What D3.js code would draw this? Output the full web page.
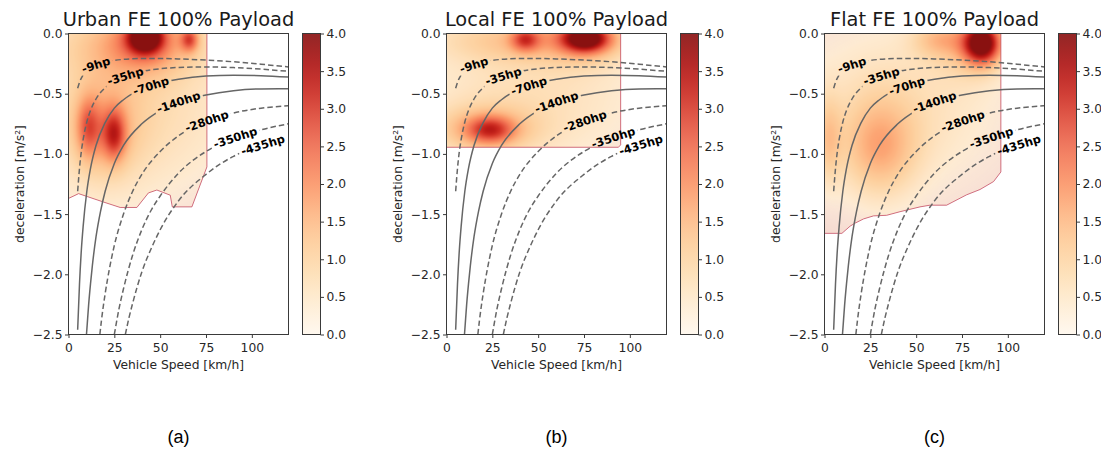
<!DOCTYPE html>
<html><head><meta charset="utf-8">
<script src="https://cdn.jsdelivr.net/npm/d3@7"></script>
<style>body{margin:0;background:#fff} svg{display:block}</style>
</head><body>
<svg id="chart" width="1101" height="452"></svg>
<script>
// ---------------- data ----------------
const panelTitles = ["Urban FE 100% Payload", "Local FE 100% Payload", "Flat FE 100% Payload"];
const panelTags = ["(a)", "(b)", "(c)"];
const speedTicks = [0, 25, 50, 75, 100];
const decelTicks = [0, -0.5, -1, -1.5, -2, -2.5];
const densityTicks = [0, 0.5, 1, 1.5, 2, 2.5, 3, 3.5, 4];

const hpLabels = ["-9hp", "-35hp", "-70hp", "-140hp", "-280hp", "-350hp", "-435hp"];
const hpDashed = [true, true, false, false, true, true, true];
const hpLabelSpeed = [15, 31, 45, 60, 75.5, 91, 106];
const hpLabelAngle = [-18, -17, -18, -19, -19, -18, -17];

// [speed km/h, deceleration m/s^2]
const curve9hp = [[5,-0.455],[6,-0.406],[7,-0.37],[8,-0.344],[10,-0.308],[12,-0.283],[15,-0.26],[20,-0.236],[25,-0.223],[30,-0.215],[40,-0.208],[50,-0.208],[60,-0.211],[75,-0.221],[90,-0.235],[105,-0.255],[120,-0.278]];
const curve35hp = [[5,-1.31],[6,-1.12],[7,-0.98],[8,-0.88],[10,-0.735],[12,-0.64],[15,-0.544],[20,-0.45],[25,-0.394],[30,-0.358],[40,-0.315],[50,-0.293],[60,-0.282],[75,-0.278],[90,-0.283],[105,-0.296],[120,-0.314]];
const curve70hp = [[5,-2.46],[6,-2.08],[7,-1.80],[8,-1.60],[10,-1.31],[12,-1.12],[15,-0.93],[20,-0.74],[25,-0.62],[30,-0.55],[40,-0.46],[50,-0.41],[60,-0.38],[75,-0.354],[90,-0.347],[105,-0.35],[120,-0.362]];
const curve140hp = [[9.8,-2.5],[10,-2.46],[11,-2.25],[12,-2.08],[13,-1.93],[15,-1.69],[17.5,-1.475],[20,-1.31],[25,-1.08],[30,-0.93],[40,-0.75],[50,-0.64],[60,-0.57],[75,-0.51],[90,-0.475],[105,-0.46],[120,-0.458]];
const curve280hp = [[17.1,-2.5],[18,-2.38],[20,-2.16],[22.5,-1.94],[25,-1.76],[30,-1.50],[35,-1.31],[40,-1.17],[50,-0.98],[60,-0.85],[75,-0.73],[90,-0.66],[105,-0.62],[120,-0.60]];
const curve350hp = [[25,-2.5],[27.5,-2.29],[30,-2.12],[35,-1.84],[40,-1.63],[45,-1.47],[50,-1.35],[60,-1.16],[75,-0.98],[90,-0.87],[105,-0.80],[120,-0.75]];
const curve435hp = [[31,-2.5],[33,-2.36],[35,-2.24],[40,-1.98],[45,-1.79],[50,-1.63],[60,-1.39],[75,-1.17],[90,-1.02],[105,-0.93],[117,-0.88]];

// data envelopes [speed, deceleration]
const urbanEnvelope = [[0,0],[75.5,0],[75.5,-1.108],[67.3,-1.44],[56.6,-1.44],[55.5,-1.343],[48.2,-1.30],[43.6,-1.324],[37.3,-1.445],[28.2,-1.445],[19.1,-1.40],[5.5,-1.33],[0,-1.37]];
const localEnvelope = [[0,0],[95,0],[95,-0.925],[93.8,-0.945],[0,-0.945]];
const flatEnvelope = [[0,0],[96.2,0],[96.2,-1.15],[92.2,-1.23],[84.8,-1.296],[77.5,-1.34],[66.6,-1.426],[57.5,-1.426],[52.1,-1.44],[41.2,-1.48],[33.9,-1.51],[26.7,-1.515],[21.3,-1.54],[16.7,-1.575],[14,-1.60],[9.5,-1.66],[0,-1.66]];

// density clusters: [speed, decel, peak, spread speed, spread decel]
const urbanBlobs = [[42,-0.03,3.3,6.5,0.09],[42,-0.05,1.0,14,0.18],[66,-0.05,1.9,3.5,0.07],[25,-0.84,1.9,4.5,0.15],[11,-0.78,1.4,4.5,0.17],[18,-0.8,1.0,14,0.3],[35,-0.08,1.0,30,0.2],[35,-0.6,0.85,40,0.55]];
const localBlobs = [[76,-0.04,3.3,9,0.08],[76,-0.05,0.8,16,0.15],[43,-0.05,1.8,5.5,0.07],[24,-0.8,1.8,9,0.08],[20,-0.8,1.2,20,0.14],[45,-0.05,1.0,35,0.13],[45,-0.5,0.7,45,0.45]];
const flatBlobs = [[86,-0.08,3.8,7,0.12],[80,-0.08,1.0,14,0.2],[62,-0.05,0.9,10,0.1],[30,-0.95,1.3,14,0.28],[2,-0.88,0.9,5,0.25],[40,-0.6,0.7,40,0.5]];

// ---------------- drawing ----------------
const curves = [curve9hp, curve35hp, curve70hp, curve140hp, curve280hp, curve350hp, curve435hp];
const envelopes = [urbanEnvelope, localEnvelope, flatEnvelope];
const blobsets = [urbanBlobs, localBlobs, flatBlobs];
const panelLeft = [68.5, 446.5, 824.5];
const plotW = 220, plotTop = 33.5, plotBottom = 334.5;
const FONT = "DejaVu Sans, sans-serif";

const svg = d3.select("#chart");
const defs = svg.append("defs");

const lut = d3.range(256).map(i => d3.rgb(d3.interpolateOrRd(i / 255)));

const grad = defs.append("linearGradient").attr("id", "cbgrad")
  .attr("x1", 0).attr("y1", 1).attr("x2", 0).attr("y2", 0);
d3.range(0, 1.0001, 0.05).forEach(t => grad.append("stop")
  .attr("offset", t).attr("stop-color", d3.interpolateOrRd(t)));

function density(blobs, v, a) {
  let s = 0;
  for (const [bv, ba, amp, sv, sa] of blobs) {
    const dv = (v - bv) / sv, da = (a - ba) / sa;
    s += amp * Math.exp(-0.5 * (dv * dv + da * da));
  }
  return s;
}

panelTitles.forEach((title, p) => {
  const x0 = panelLeft[p];
  const x = d3.scaleLinear().domain([0, 120]).range([x0, x0 + plotW]);
  const y = d3.scaleLinear().domain([0, -2.5]).range([plotTop, plotBottom]);
  const g = svg.append("g");

  defs.append("clipPath").attr("id", "plot" + p).append("rect")
    .attr("x", x0).attr("y", plotTop).attr("width", plotW).attr("height", plotBottom - plotTop);

  const envLine = d3.line().x(d => x(d[0])).y(d => y(d[1]));
  const envPath = envLine(envelopes[p]) + "Z";
  defs.append("clipPath").attr("id", "env" + p).append("path").attr("d", envPath);

  g.append("path").attr("d", envPath).attr("fill", "#f4d6cd");

  const cw = plotW, ch = Math.round(plotBottom - plotTop);
  const canvas = document.createElement("canvas");
  canvas.width = cw; canvas.height = ch;
  const ctx = canvas.getContext("2d");
  const img = ctx.createImageData(cw, ch);
  for (let j = 0; j < ch; j++) {
    const a = y.invert(plotTop + j + 0.5);
    for (let i = 0; i < cw; i++) {
      const v = x.invert(x0 + i + 0.5);
      const d = density(blobsets[p], v, a);
      const c = lut[Math.round(Math.min(d / 4, 1) * 255)];
      const k = (j * cw + i) * 4;
      img.data[k] = c.r; img.data[k + 1] = c.g; img.data[k + 2] = c.b;
      img.data[k + 3] = Math.round(255 * 0.92 * Math.min(1, d / 0.35));
    }
  }
  ctx.putImageData(img, 0, 0);
  g.append("image").attr("href", canvas.toDataURL())
    .attr("x", x0).attr("y", plotTop).attr("width", cw).attr("height", ch)
    .attr("preserveAspectRatio", "none")
    .attr("clip-path", `url(#env${p})`);

  g.append("path").attr("d", envPath).attr("fill", "none")
    .attr("stroke", "#c2445e").attr("stroke-opacity", 0.75).attr("stroke-width", 1);

  const mask = defs.append("mask").attr("id", "mask" + p).attr("maskUnits", "userSpaceOnUse")
    .attr("x", 0).attr("y", 0).attr("width", 1101).attr("height", 452);
  mask.append("rect").attr("x", 0).attr("y", 0).attr("width", 1101).attr("height", 452).attr("fill", "#fff");

  const lineGen = d3.line().x(d => x(d[0])).y(d => y(d[1])).curve(d3.curveMonotoneX);
  const lines = g.append("g").attr("clip-path", `url(#plot${p})`)
    .append("g").attr("mask", `url(#mask${p})`);
  curves.forEach((c, ci) => {
    lines.append("path").attr("d", lineGen(c)).attr("fill", "none")
      .attr("stroke", "#666").attr("stroke-width", 1.5)
      .attr("stroke-dasharray", hpDashed[ci] ? "5.5,3" : null);
  });

  const labG = g.append("g");
  curves.forEach((c, ci) => {
    const sv = hpLabelSpeed[ci];
    let k = 1; while (k < c.length - 1 && c[k][0] < sv) k++;
    const t = (sv - c[k - 1][0]) / (c[k][0] - c[k - 1][0]);
    const av = c[k - 1][1] + t * (c[k][1] - c[k - 1][1]);
    const px = x(sv), py = y(av);
    const txt = labG.append("text").attr("x", px).attr("y", py).attr("dy", "0.35em")
      .attr("text-anchor", "middle").attr("font-family", FONT).attr("font-weight", "bold")
      .attr("font-size", "11.5px").attr("fill", "#000")
      .attr("transform", `rotate(${hpLabelAngle[ci]},${px},${py})`).text(hpLabels[ci]);
    const w = txt.node().getComputedTextLength() + 5;
    mask.append("rect").attr("x", px - w / 2).attr("y", py - 6).attr("width", w).attr("height", 12)
      .attr("fill", "#000").attr("transform", `rotate(${hpLabelAngle[ci]},${px},${py})`);
  });

  const xAxis = d3.axisBottom(x).tickValues(speedTicks).tickSize(3.5).tickPadding(5).tickFormat(d3.format("d"));
  const yAxis = d3.axisLeft(y).tickValues(decelTicks).tickSize(3.5).tickPadding(2.5).tickFormat(d3.format(".1f"));
  const xa = g.append("g").attr("transform", `translate(0,${plotBottom})`).call(xAxis);
  const ya = g.append("g").attr("transform", `translate(${x0},0)`).call(yAxis);
  [xa, ya].forEach(a => {
    a.select(".domain").remove();
    a.selectAll("line").attr("stroke", "#3a3a3a");
    a.selectAll("text").attr("font-family", FONT).attr("font-size", "12.3px").attr("fill", "#262626");
  });
  g.append("rect").attr("x", x0).attr("y", plotTop).attr("width", plotW).attr("height", plotBottom - plotTop)
    .attr("fill", "none").attr("stroke", "#3a3a3a").attr("stroke-width", 1);

  g.append("text").attr("x", x0 + plotW / 2).attr("y", 26).attr("text-anchor", "middle")
    .attr("font-family", FONT).attr("font-size", "19.4px").attr("fill", "#1a1a1a").text(title);
  g.append("text").attr("x", x0 + plotW / 2).attr("y", 369).attr("text-anchor", "middle")
    .attr("font-family", FONT).attr("font-size", "12.3px").attr("fill", "#262626").text("Vehicle Speed [km/h]");
  const ylx = x0 - 45, yly = (plotTop + plotBottom) / 2;
  g.append("text").attr("x", ylx).attr("y", yly).attr("text-anchor", "middle")
    .attr("transform", `rotate(-90,${ylx},${yly})`)
    .attr("font-family", FONT).attr("font-size", "12.3px").attr("fill", "#262626").text("deceleration [m/s²]");
  g.append("text").attr("x", x0 + plotW / 2).attr("y", 443).attr("text-anchor", "middle")
    .attr("font-family", "Liberation Sans, Arial, sans-serif").attr("font-size", "18px").attr("fill", "#000")
    .text(panelTags[p]);

  const cbx = x0 + 234, cbw = 18;
  const cs = d3.scaleLinear().domain([0, 4]).range([plotBottom, plotTop]);
  g.append("rect").attr("x", cbx).attr("y", plotTop).attr("width", cbw).attr("height", plotBottom - plotTop)
    .attr("fill", "url(#cbgrad)").attr("fill-opacity", 0.85);
  g.append("rect").attr("x", cbx).attr("y", plotTop).attr("width", cbw).attr("height", plotBottom - plotTop)
    .attr("fill", "none").attr("stroke", "#3a3a3a").attr("stroke-width", 1);
  const ca = g.append("g").attr("transform", `translate(${cbx + cbw},0)`)
    .call(d3.axisRight(cs).tickValues(densityTicks).tickSize(3.5).tickPadding(2.5).tickFormat(d3.format(".1f")));
  ca.select(".domain").remove();
  ca.selectAll("line").attr("stroke", "#3a3a3a");
  ca.selectAll("text").attr("font-family", FONT).attr("font-size", "12.3px").attr("fill", "#262626");
});
</script>
</body></html>
